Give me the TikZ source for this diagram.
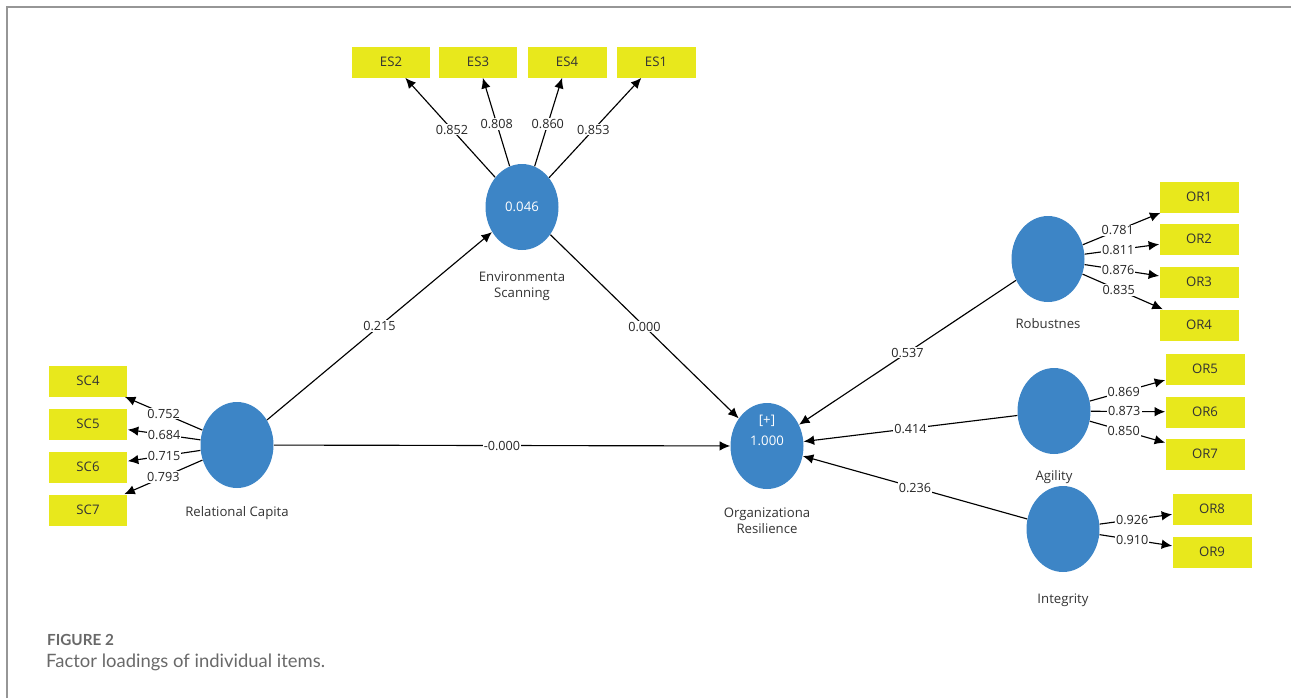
\documentclass[tikz,border=0pt]{standalone}
\usepackage{fontspec}
\setmainfont{Open Sans}
\newfontfamily\capfont{Lato}
\usetikzlibrary{positioning, shapes.geometric, arrows.meta}
\definecolor{latentblue}{RGB}{61,133,198}
\definecolor{itemyellow}{RGB}{232,232,28}
\definecolor{framegray}{RGB}{150,150,150}
\definecolor{capgray}{RGB}{105,105,105}

\begin{document}
\begin{tikzpicture}[x=0.02cm, y=-0.02cm,
    latent/.style={ellipse, fill=latentblue, minimum width=1.46cm, minimum height=1.72cm, inner sep=0pt},
    item/.style={rectangle, fill=itemyellow, minimum width=1.58cm, minimum height=0.62cm, font=\fontsize{7.5}{9}\selectfont, text=black!80},
    lbl/.style={font=\fontsize{7.5}{9}\selectfont, text=black!80, align=center},
    wt/.style={fill=white, inner sep=0.6pt, font=\fontsize{7.2}{8}\selectfont, text=black!85},
    link/.style={-{Latex[length=2.1mm, width=1.9mm]}, line width=0.65pt},
  ]
  \useasboundingbox (0,0) rectangle (1291,698);
  \draw[framegray, line width=1.1pt] (7,698) -- (7,7) -- (1291,7);

  % Latent variables
  \node[latent, text=white, font=\fontsize{7.5}{9}\selectfont] (es) at (522,207) {0.046};
  \node[latent] (rc) at (237,445) {};
  \node[latent] (or) at (767,446) {};
  \node[lbl, text=white] (orval) at (767,430) {[+]\\[3pt]1.000};
  \node[latent] (rob) at (1048,259) {};
  \node[latent] (agi) at (1054,411) {};
  \node[latent] (integ) at (1063,529) {};

  \node[lbl, below=3mm of es] (eslbl) {Environmenta\\Scanning};
  \node[lbl, below=2.4mm of rc] (rclbl) {Relational Capita};
  \node[lbl, below=2.4mm of or] (orlbl) {Organizationa\\Resilience};
  \node[lbl, below=2mm of rob] (roblbl) {Robustnes};
  \node[lbl, below=2mm of agi] (agilbl) {Agility};
  \node[lbl, below=3mm of integ] (integlbl) {Integrity};

  % Indicators
  \foreach \n/\x in {2/391, 3/478, 4/567, 1/656}
    \node[item] (es\n) at (\x,62) {ES\n};
  \foreach \n/\y in {4/381, 5/424, 6/467, 7/510}
    \node[item] (sc\n) at (88,\y) {SC\n};
  \foreach \n/\y in {1/197, 2/239, 3/282, 4/325}
    \node[item] (or\n) at (1199,\y) {OR\n};
  \foreach \n/\y in {5/369, 6/412, 7/454}
    \node[item] (or\n) at (1205,\y) {OR\n};
  \foreach \n/\y in {8/509, 9/552}
    \node[item] (or\n) at (1212,\y) {OR\n};

  % Loadings
  \foreach \n/\v in {2/0.852, 3/0.808, 4/0.860, 1/0.853}
    \draw[link] (es) -- (es\n) node[wt, pos=0.48] {\v};
  \foreach \n/\v in {4/0.752, 5/0.684, 6/0.715, 7/0.793}
    \draw[link] (rc) -- (sc\n) node[wt, pos=0.5] {\v};
  \foreach \n/\v in {1/0.781, 2/0.811, 3/0.876, 4/0.835}
    \draw[link] (rob) -- (or\n) node[wt, pos=0.45] {\v};
  \foreach \n/\v in {5/0.869, 6/0.873, 7/0.850}
    \draw[link] (agi) -- (or\n) node[wt, pos=0.45] {\v};
  \foreach \n/\v in {8/0.926, 9/0.910}
    \draw[link] (integ) -- (or\n) node[wt, pos=0.45] {\v};

  % Paths
  \draw[link] (rc) -- (es) node[wt, pos=0.5] {0.215};
  \draw[link] (es) -- (or) node[wt, pos=0.5] {0.000};
  \draw[link] (rc) -- (or) node[wt, pos=0.5] {-0.000};
  \draw[link] (rob) -- (or) node[wt, pos=0.5] {0.537};
  \draw[link] (agi) -- (or) node[wt, pos=0.5] {0.414};
  \draw[link] (integ) -- (or) node[wt, pos=0.5] {0.236};

  % Caption
  \node[anchor=base west, font=\capfont\bfseries\fontsize{8.7}{10}\selectfont, text=capgray] (fig) at (41,645) {FIGURE 2};
  \node[anchor=base west, font=\capfont\fontsize{10.5}{12}\selectfont, text=capgray] (cap) at (40,667) {Factor loadings of individual items.};
\end{tikzpicture}
\end{document}
